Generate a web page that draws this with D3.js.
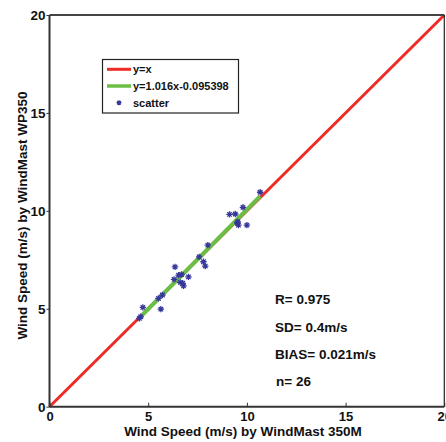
<!DOCTYPE html>
<html><head><meta charset="utf-8">
<script src="https://cdn.jsdelivr.net/npm/d3@7"></script>
<style>
html,body{margin:0;padding:0;background:#fff;}
svg text{font-family:Arial,"Liberation Sans",sans-serif;font-weight:bold;fill:#111;}
</style></head><body>
<svg id="chart" width="446" height="442"></svg>
<script>
// Data
const xValues = [10.67, 9.80, 9.12, 9.41, 9.54, 9.57, 10.00, 8.02, 7.58, 7.80, 7.89, 6.36, 6.54,
                 6.69, 7.04, 6.31, 6.62, 6.75, 6.79, 5.72, 5.52, 4.73, 5.64, 4.62, 4.55, 9.51];
const yValues = [10.95, 10.18, 9.82, 9.84, 9.44, 9.27, 9.27, 8.25, 7.65, 7.40, 7.18, 7.14, 6.72,
                 6.75, 6.63, 6.50, 6.35, 6.30, 6.17, 5.70, 5.53, 5.07, 4.98, 4.59, 4.51, 9.38];
const tickValues = [0, 5, 10, 15, 20];
const fitSlope = 1.016, fitIntercept = -0.095398;
const legendLabels = ["y=x", "y=1.016x-0.095398", "scatter"];
const statsLabels = ["R= 0.975", "SD= 0.4m/s", "BIAS= 0.021m/s", "n= 26"];
const xTitle = "Wind Speed (m/s) by WindMast 350M";
const yTitle = "Wind Speed (m/s) by WindMast WP350";

const svg = d3.select("#chart");
const L = 49.5, R = 444.3, T = 15, B = 406.7;
const x = d3.scaleLinear().domain([0, 20]).range([L, R]);
const y = d3.scaleLinear().domain([0, 20]).range([B, T]);

const red = "#ee2b24", green = "#6cbd45", markerColor = "#36379a";

// y = x line
svg.append("line")
  .attr("x1", x(0)).attr("y1", y(0)).attr("x2", x(20)).attr("y2", y(20))
  .attr("stroke", red).attr("stroke-width", 3);

// fit line
const xmin = d3.min(xValues), xmax = d3.max(xValues);
svg.append("line")
  .attr("x1", x(xmin)).attr("y1", y(fitSlope * xmin + fitIntercept))
  .attr("x2", x(xmax)).attr("y2", y(fitSlope * xmax + fitIntercept))
  .attr("stroke", green).attr("stroke-width", 4);

// asterisk marker
function star(g, cx, cy, r) {
  const p = d3.path();
  p.moveTo(cx - r, cy); p.lineTo(cx + r, cy);
  p.moveTo(cx, cy - r); p.lineTo(cx, cy + r);
  const d = r * 0.7;
  p.moveTo(cx - d, cy - d); p.lineTo(cx + d, cy + d);
  p.moveTo(cx - d, cy + d); p.lineTo(cx + d, cy - d);
  g.append("path").attr("d", p.toString()).attr("stroke", markerColor)
    .attr("stroke-width", 1.3).attr("fill", "none");
}
const pts = svg.append("g");
xValues.forEach((v, i) => star(pts, x(v), y(yValues[i]), 3.2));

// axes frame
const ax = svg.append("g");
ax.append("line").attr("x1", L).attr("x2", R).attr("y1", T).attr("y2", T).attr("stroke", "#444").attr("stroke-width", 2);
ax.append("line").attr("x1", L).attr("x2", R).attr("y1", B).attr("y2", B).attr("stroke", "#333").attr("stroke-width", 2);
ax.append("line").attr("x1", L).attr("x2", L).attr("y1", T).attr("y2", B).attr("stroke", "#333").attr("stroke-width", 2);
ax.append("line").attr("x1", R).attr("x2", R).attr("y1", T).attr("y2", B).attr("stroke", "#222").attr("stroke-width", 1.2);

// bottom axis ticks + labels
const xAxis = d3.axisBottom(x).tickValues(tickValues).tickSizeInner(-4).tickSizeOuter(0).tickPadding(5);
const gx = svg.append("g").attr("transform", `translate(0,${B})`).call(xAxis);
gx.select(".domain").remove();
gx.selectAll(".tick line").attr("stroke", "#333").attr("stroke-width", 1);
gx.selectAll(".tick text").attr("font-size", 13).attr("font-family", "Arial, 'Liberation Sans', sans-serif")
  .attr("font-weight", "bold").attr("fill", "#111");

// left axis ticks + labels
const yAxis = d3.axisLeft(y).tickValues(tickValues).tickSizeInner(3).tickSizeOuter(0).tickPadding(1);
const gy = svg.append("g").attr("transform", `translate(${L},0)`).call(yAxis);
gy.select(".domain").remove();
gy.selectAll(".tick line").attr("stroke", "#333").attr("stroke-width", 1);
gy.selectAll(".tick text").attr("font-size", 13.5).attr("font-family", "Arial, 'Liberation Sans', sans-serif")
  .attr("font-weight", "bold").attr("fill", "#111");

// axis titles
svg.append("text").attr("x", 243).attr("y", 435.5).attr("text-anchor", "middle")
  .attr("font-size", 13.5).text(xTitle);
svg.append("text").attr("transform", "translate(27,215.5) rotate(-90)").attr("text-anchor", "middle")
  .attr("font-size", 13.5).text(yTitle);

// legend
const lg = svg.append("g");
lg.append("rect").attr("x", 102.5).attr("y", 59.5).attr("width", 136).attr("height", 53.5)
  .attr("fill", "#fff").attr("stroke", "#222").attr("stroke-width", 1.2);
const rowY = [69.3, 86, 102.7];
lg.append("line").attr("x1", 107).attr("x2", 131).attr("y1", rowY[0]).attr("y2", rowY[0]).attr("stroke", red).attr("stroke-width", 3);
lg.append("line").attr("x1", 107).attr("x2", 131).attr("y1", rowY[1]).attr("y2", rowY[1]).attr("stroke", green).attr("stroke-width", 3.5);
star(lg, 119, rowY[2], 2.5);
legendLabels.forEach((t, i) => {
  lg.append("text").attr("x", 133).attr("y", rowY[i] + 4).attr("font-size", 11).text(t);
});

// stats text
const statY = [304, 331.5, 359, 386];
statsLabels.forEach((t, i) => {
  svg.append("text").attr("x", i === 3 ? 276 : 275).attr("y", statY[i]).attr("font-size", 13.5).text(t);
});
</script>
</body></html>
